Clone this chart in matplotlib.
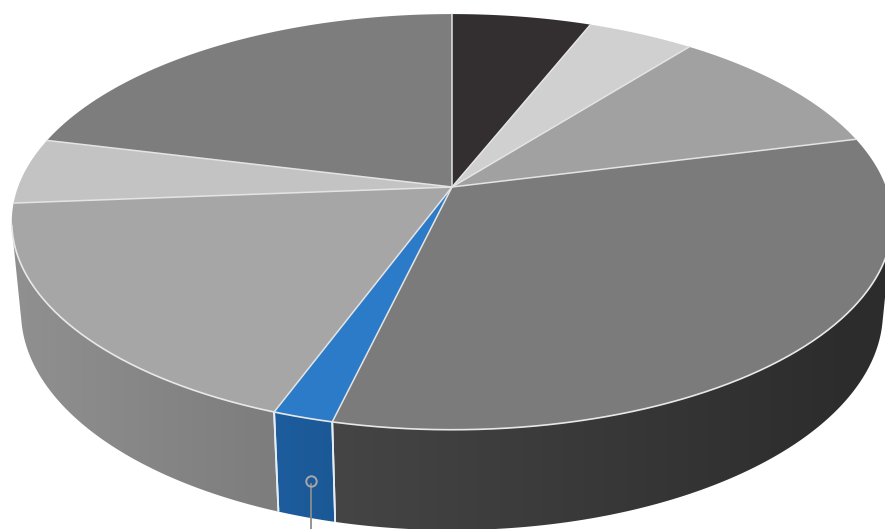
import numpy as np
import matplotlib.pyplot as plt
from matplotlib.patches import Polygon
from matplotlib.colors import to_rgb

# slice shares (percent), clockwise from 12 o'clock
values = [6.0, 4.6, 10.4, 32.6, 1.9, 18.1, 5.1, 21.1]
top_colors = ['#332e30', '#d0d0d0', '#a1a1a1', '#7b7b7b', '#2b7bc8', '#a6a6a6', '#c3c3c3', '#7d7d7d']
# side colours: (at slice start angle, at slice end angle)
side_colors = [('#222', '#222'), ('#999', '#999'), ('#777', '#777'),
               ('#2c2c2c', '#454545'), ('#1b5896', '#1d5d9e'),
               ('#7d7d7d', '#909090'), ('#909090', '#909090'), ('#555', '#555')]
marker_slice = 4

# camera (pixel space of the 885x529 picture)
x0, y0 = 452, 187
F, D = 2287.0, 5.27
phi = np.arcsin(0.4654)
H = 0.236


def project(X, Y, Z):
    d = D - Y * np.cos(phi) - Z * np.sin(phi)
    sx = x0 + F * X / d
    sy = y0 + F * (Y * np.sin(phi) - Z * np.cos(phi)) / d
    return sx, sy


def rim(t, z=0.0):
    return project(np.cos(t), np.sin(t), z)


fig = plt.figure(figsize=(8.85, 5.29), dpi=100)
ax = fig.add_axes([0, 0, 1, 1])
ax.set_xlim(0, 885)
ax.set_ylim(529, 0)
ax.axis('off')

shares = np.array(values) / np.sum(values) * 360.0
edges = np.radians(-90 + np.concatenate([[0], np.cumsum(shares)]))

# side wall is seen only where sin(t) > 1/(D cos(phi))
vis_lo = np.arcsin(1 / (D * np.cos(phi)))
vis_hi = np.pi - vis_lo

# sides: gradient image clipped to each slice's wall
for i in range(len(values)):
    a, b = edges[i], edges[i + 1]
    lo, hi = max(a, vis_lo), min(b, vis_hi)
    if hi <= lo:
        continue
    ts = np.linspace(lo, hi, 200)
    xt, yt = rim(ts)
    xb, yb = rim(ts[::-1], -H)
    pts = np.column_stack([np.concatenate([xt, xb]), np.concatenate([yt, yb])])
    poly = Polygon(pts, closed=True, facecolor='none', edgecolor='none')
    ax.add_patch(poly)
    xa_, _ = rim(a)
    xb_, _ = rim(b)
    xmin, xmax = pts[:, 0].min() - 2, pts[:, 0].max() + 2
    ymin, ymax = pts[:, 1].min() - 2, pts[:, 1].max() + 2
    gx = np.linspace(xmin, xmax, 256)
    f = np.clip((gx - xa_) / (xb_ - xa_), 0, 1)
    c1, c2 = np.array(to_rgb(side_colors[i][0])), np.array(to_rgb(side_colors[i][1]))
    img = (c1[None, :] + (c2 - c1)[None, :] * f[:, None])[None, :, :]
    im = ax.imshow(img, extent=(xmin, xmax, ymax, ymin), aspect='auto',
                   interpolation='bilinear', zorder=1)
    im.set_clip_path(poly)
    # vertical seams between slices on the side
    for t in (a, b):
        if vis_lo < t < vis_hi:
            xa, ya = rim(t)
            xd, yd = rim(t, -H)
            ax.plot([xa, xd], [ya, yd], color='#e6eef5', lw=1.3,
                    solid_capstyle='butt', zorder=2)

ax.set_xlim(0, 885)
ax.set_ylim(529, 0)

# tops
for i in range(len(values)):
    ts = np.linspace(edges[i], edges[i + 1], 120)
    xs, ys = rim(ts)
    pts = [(x0, y0)] + list(zip(xs, ys))
    ax.add_patch(Polygon(pts, closed=True, facecolor=top_colors[i],
                         edgecolor='none', zorder=3))

# light rim along the front of the top face
ts = np.linspace(vis_lo - 0.03, vis_hi + 0.03, 300)
xs, ys = rim(ts)
ax.plot(xs, ys, color='#e8e8e8', lw=1.2, zorder=4)

# radial separators
for t in edges[:-1]:
    xe, ye = rim(t)
    ax.plot([x0, xe], [y0, ye], color='#e4e4e4', lw=1.1, zorder=4)

# leader marker on the small blue slice
a, b = edges[marker_slice], edges[marker_slice + 1]
tm = a + 0.4 * (b - a)
mx, my = rim(tm, -0.62 * H)
ax.plot([mx, mx], [my + 3.6, 540], color='#8c8c8c', lw=1.3, zorder=5)
ax.plot(mx, my, marker='o', ms=7.5, mfc='none', mec='#a8a8a8', mew=1.4, zorder=5)

fig.savefig('out.png', dpi=100)
